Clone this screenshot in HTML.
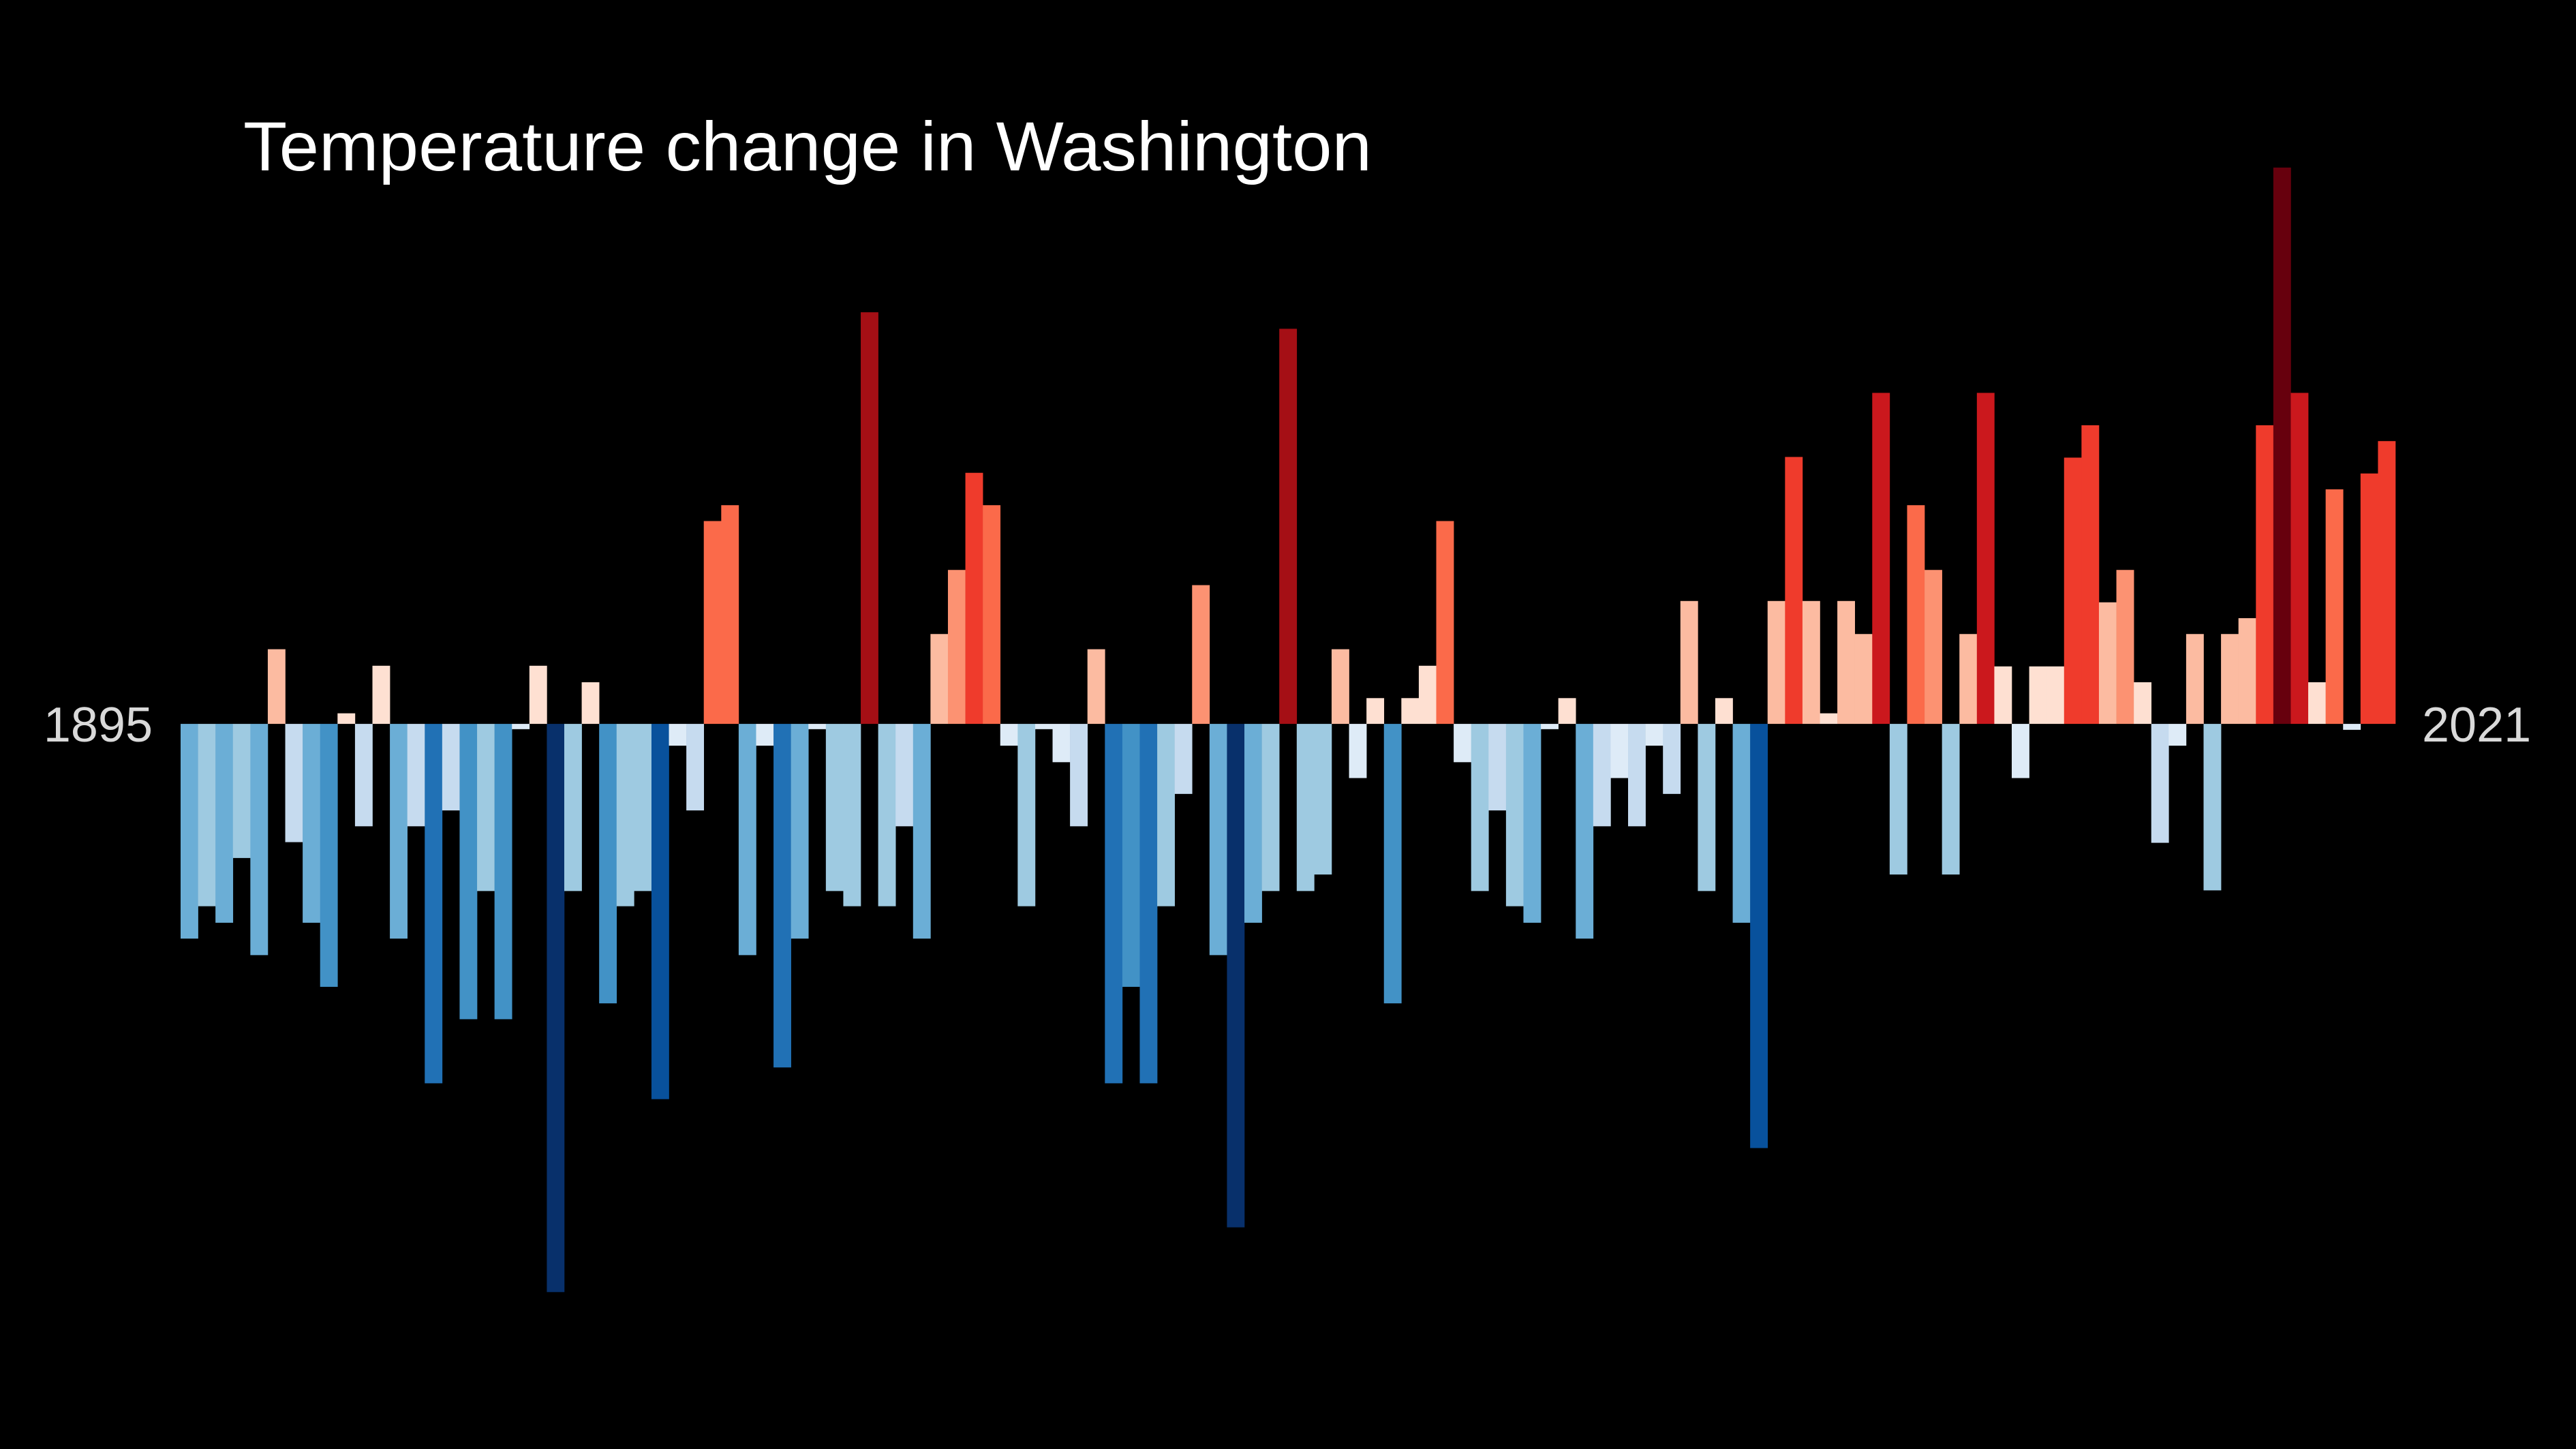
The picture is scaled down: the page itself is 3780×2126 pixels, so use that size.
<!DOCTYPE html>
<html><head><meta charset="utf-8"><style>
html,body{margin:0;padding:0;background:#000;}
svg{display:block;}
</style></head><body>
<svg id="s" width="3780" height="2126" viewBox="0 0 3780 2126" xmlns="http://www.w3.org/2000/svg">
<rect width="3780" height="2126" fill="#000"/>
<text x="357" y="250" font-family="Liberation Sans, Arial, sans-serif" font-size="102" fill="#fff" textLength="1656" lengthAdjust="spacingAndGlyphs">Temperature change in Washington</text>
<text x="224" y="1088" text-anchor="end" font-family="Liberation Sans, Arial, sans-serif" font-size="72" fill="#d9d9d9">1895</text>
<text x="3554" y="1088" font-family="Liberation Sans, Arial, sans-serif" font-size="72" fill="#d9d9d9">2021</text>
<g id="bars" transform="translate(0,400) scale(1,0.96939)"></g>
</svg>
<script>
var d=[[1008,'6baed6'],[959,'9ecae1'],[984,'6baed6'],[886,'9ecae1'],[1033,'6baed6'],[570,'fcbba1'],[862,'c6dbef'],[984,'6baed6'],[1081,'4292c6'],[667,'fee0d2'],
[838,'c6dbef'],[595,'fee0d2'],[1008,'6baed6'],[838,'c6dbef'],[1227,'2171b5'],[814,'c6dbef'],[1130,'4292c6'],[936,'9ecae1'],[1130,'4292c6'],[691,'deebf7'],
[595,'fee0d2'],[1543,'08306b'],[936,'9ecae1'],[620,'fee0d2'],[1106,'4292c6'],[959,'9ecae1'],[936,'9ecae1'],[1251,'08519c'],[716,'deebf7'],[814,'c6dbef'],
[376,'fb6a4a'],[352,'fb6a4a'],[1033,'6baed6'],[716,'deebf7'],[1203,'2171b5'],[1008,'6baed6'],[691,'deebf7'],[936,'9ecae1'],[959,'9ecae1'],[60,'a50f15'],
[959,'9ecae1'],[838,'c6dbef'],[1008,'6baed6'],[547,'fcbba1'],[450,'fc9272'],[303,'ef3b2c'],[352,'fb6a4a'],[716,'deebf7'],[959,'9ecae1'],[691,'deebf7'],
[741,'deebf7'],[838,'c6dbef'],[570,'fcbba1'],[1227,'2171b5'],[1081,'4292c6'],[1227,'2171b5'],[959,'9ecae1'],[789,'c6dbef'],[473,'fc9272'],[1033,'6baed6'],
[1445,'08306b'],[984,'6baed6'],[936,'9ecae1'],[85,'a50f15'],[936,'9ecae1'],[911,'9ecae1'],[570,'fcbba1'],[765,'deebf7'],[644,'fee0d2'],[1106,'4292c6'],
[644,'fee0d2'],[595,'fee0d2'],[376,'fb6a4a'],[741,'deebf7'],[936,'9ecae1'],[814,'c6dbef'],[959,'9ecae1'],[984,'6baed6'],[691,'deebf7'],[644,'fee0d2'],
[1008,'6baed6'],[838,'c6dbef'],[765,'deebf7'],[838,'c6dbef'],[716,'deebf7'],[789,'c6dbef'],[497,'fcbba1'],[936,'9ecae1'],[644,'fee0d2'],[984,'6baed6'],
[1325,'08519c'],[497,'fcbba1'],[279,'ef3b2c'],[497,'fcbba1'],[667,'fee0d2'],[497,'fcbba1'],[547,'fcbba1'],[182,'cb181d'],[911,'9ecae1'],[352,'fb6a4a'],
[450,'fc9272'],[911,'9ecae1'],[547,'fcbba1'],[182,'cb181d'],[596,'fee0d2'],[765,'deebf7'],[596,'fee0d2'],[596,'fee0d2'],[280,'ef3b2c'],[231,'ef3b2c'],
[499,'fcbba1'],[450,'fc9272'],[620,'fee0d2'],[863,'c6dbef'],[716,'deebf7'],[547,'fcbba1'],[935,'9ecae1'],[547,'fcbba1'],[523,'fcbba1'],[231,'ef3b2c'],
[-159,'67000d'],[182,'cb181d'],[620,'fee0d2'],[328,'fb6a4a'],[692,'deebf7'],[304,'ef3b2c'],[255,'ef3b2c']];
var g=document.getElementById('bars'),ns='http://www.w3.org/2000/svg',B=683,w=(3515-265)/127;
d.forEach(function(v,i){var r=document.createElementNS(ns,'rect');var y=Math.min(v[0],B),h=Math.abs(v[0]-B);
r.setAttribute('x',(265+i*w).toFixed(2));r.setAttribute('width',(w+0.3).toFixed(2));r.setAttribute('y',y);r.setAttribute('height',h);r.setAttribute('fill','#'+v[1]);g.appendChild(r);});
</script>
</body></html>
